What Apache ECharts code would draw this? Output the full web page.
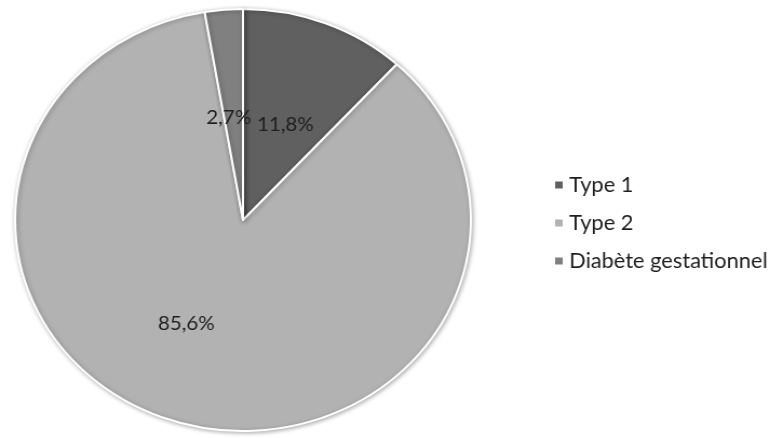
<!DOCTYPE html>
<html>
<head>
<meta charset="utf-8">
<script src="https://cdn.jsdelivr.net/npm/echarts@6/dist/echarts.min.js"></script>
<style>
html,body{margin:0;padding:0;background:#fff;overflow:hidden;}
#wrap{width:772px;height:438px;overflow:hidden;}
#chart{width:715px;height:438px;transform:scaleX(1.08);transform-origin:0 0;}
</style>
</head>
<body>
<div id="wrap"><div id="chart"></div></div>
<script>
const categories = ["Type 1", "Type 2", "Diabète gestationnel"];
const values = [11.8, 85.6, 2.7];
const labels = ["11,8%", "85,6%", "2,7%"];
const colors = ["#606060", "#b2b2b2", "#808080"];
const labelOffsets = [[0, 6], [-22, 0], [-4, 6]];

const chart = echarts.init(document.getElementById('chart'), null, {renderer: 'canvas'});
const data = categories.map((c, i) => ({
  name: c,
  value: values[i],
  itemStyle: {color: colors[i]},
  label: {formatter: labels[i], offset: labelOffsets[i]}
}));
chart.setOption({
  animation: false,
  backgroundColor: '#ffffff',
  legend: {
    orient: 'vertical',
    left: 507,
    top: 170,
    itemWidth: 9,
    itemHeight: 9,
    itemGap: 18,
    icon: 'rect',
    textStyle: {fontFamily: 'Lato', fontSize: 20.2, color: '#1e1e1e', lineHeight: 20, padding: [0, 0, 0, 0]},
    data: categories
  },
  series: [{
    type: 'pie',
    center: [225, 220],
    radius: [0, 211],
    startAngle: 90,
    clockwise: true,
    avoidLabelOverlap: false,
    label: {
      position: 'inside',
      fontFamily: 'Lato',
      fontSize: 19,
      color: '#1e1e1e'
    },
    labelLine: {show: false},
    itemStyle: {
      borderColor: '#ffffff',
      borderWidth: 2,
      shadowBlur: 4,
      shadowColor: 'rgba(0,0,0,0.3)',
      shadowOffsetX: 1,
      shadowOffsetY: 1
    },
    emphasis: {disabled: true},
    data: data
  }]
});
</script>
</body>
</html>
